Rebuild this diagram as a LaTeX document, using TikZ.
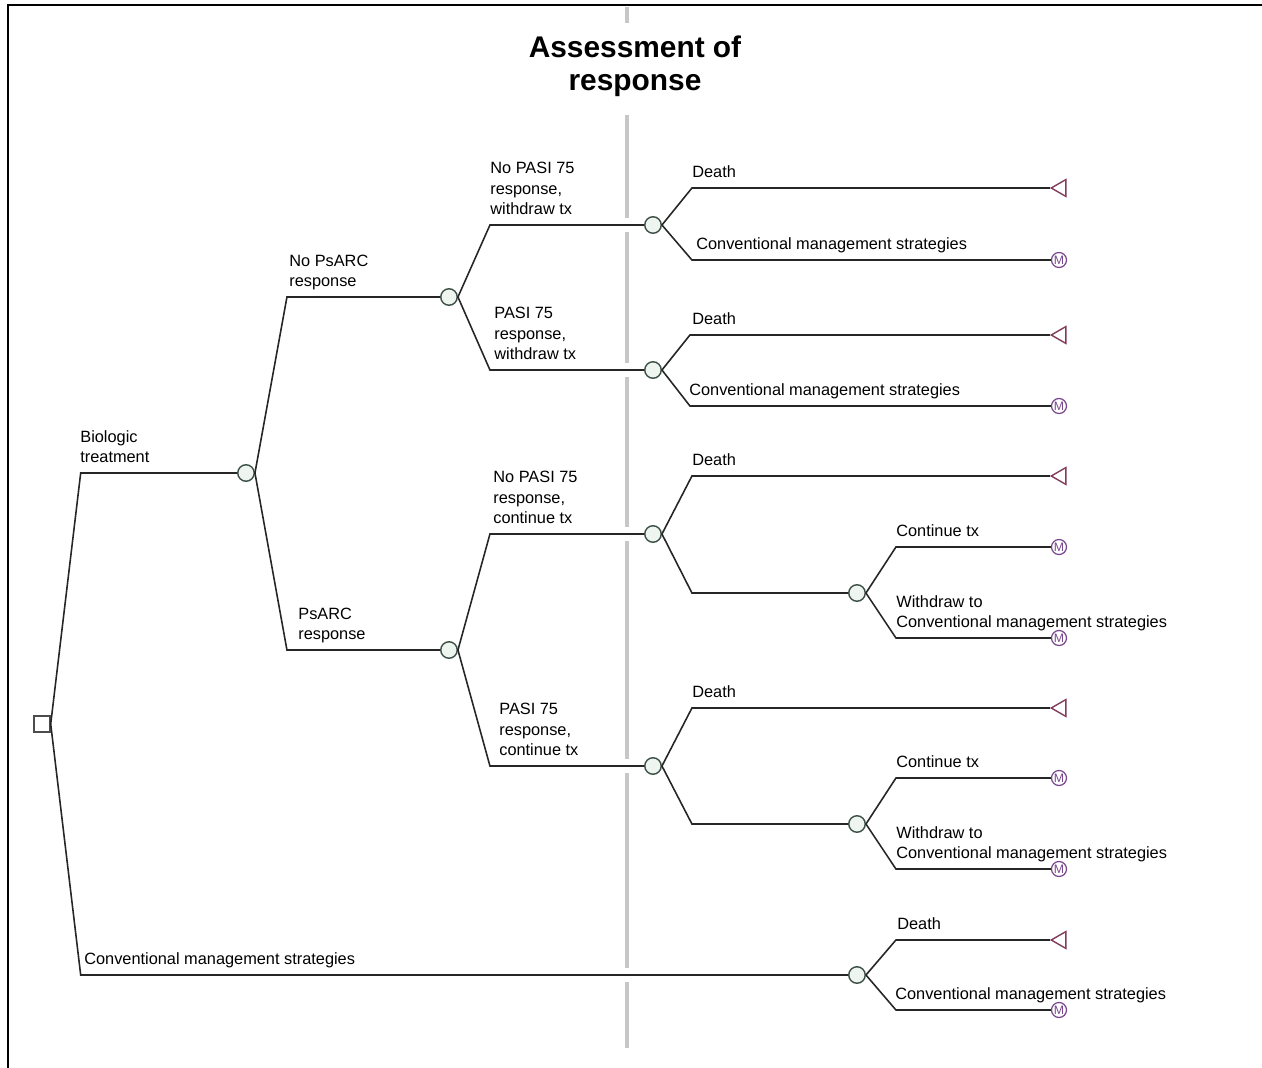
\documentclass[tikz,border=0pt]{standalone}
\usepackage{fontspec}
\setmainfont{Liberation Sans}
\usetikzlibrary{shapes.geometric}

\definecolor{chancedraw}{RGB}{60,80,70}
\definecolor{chancefill}{RGB}{238,245,240}
\definecolor{enddraw}{RGB}{130,60,90}
\definecolor{markovdraw}{RGB}{120,70,140}

\begin{document}
\begin{tikzpicture}[x=0.02cm, y=-0.02cm]
    \tikzset{EdgeStyle/.style={draw=black!85, line width=0.9pt}}
    \tikzset{BranchPath/.style={to path={-- ([xshift=#1]\tikztostart |- \tikztotarget) -- (\tikztotarget)}}, BranchPath/.default=0.6cm}
    \tikzset{DecisionStyle/.style={draw=black!70, fill=white, line width=0.8pt, minimum size=0.32cm, inner sep=0}}
    \tikzset{ChanceStyle/.style={circle, draw=chancedraw, fill=chancefill, line width=0.8pt, minimum size=0.33cm, inner sep=0}}
    \tikzset{EndStyle/.style={regular polygon, regular polygon sides=3, shape border rotate=90, draw=enddraw, line width=0.8pt, minimum size=0.39cm, inner sep=0}}
    \tikzset{MarkovStyle/.style={circle, draw=markovdraw, text=markovdraw, line width=0.7pt, minimum size=0.3cm, inner sep=0, font=\fontsize{7}{7}\selectfont}}
    \tikzset{LabelStyle/.style={anchor=base west, inner sep=0, align=left, font=\fontsize{9.3}{11.6}\selectfont}}
    \tikzset{TitleStyle/.style={anchor=base, inner sep=0, align=center, font=\fontsize{17}{19.3}\selectfont\bfseries}}

    \useasboundingbox (0,0) rectangle (1262,1068);
    \draw[line width=1.2pt] (8,1068) -- (8,5) -- (1262,5);

    \draw[draw=black!22, line width=1.8pt] (627,7) -- (627,23) (627,115) -- (627,218) (627,232) -- (627,363) (627,377) -- (627,527) (627,541) -- (627,759) (627,773) -- (627,968) (627,982) -- (627,1048);

    \node[TitleStyle] (title) at (635,91) {Assessment of\\response};

    \node[DecisionStyle] (D) at (42,724) {};

    \node[ChanceStyle] (Bio) at (246,473) {};
    \node[ChanceStyle] (Conv) at (857,975) {};
    \node[ChanceStyle] (NoPs) at (449,297) {};
    \node[ChanceStyle] (Ps) at (449,650) {};
    \node[ChanceStyle] (NoPasiW) at (653,225) {};
    \node[ChanceStyle] (PasiW) at (653,370) {};
    \node[ChanceStyle] (NoPasiC) at (653,534) {};
    \node[ChanceStyle] (PasiC) at (653,766) {};
    \node[ChanceStyle] (NoPasiCt) at (857,593) {};
    \node[ChanceStyle] (PasiCt) at (857,824) {};

    \node[EndStyle] (T1) at (1061,188) {};
    \node[EndStyle] (T2) at (1061,335) {};
    \node[EndStyle] (T3) at (1061,476) {};
    \node[EndStyle] (T4) at (1061,708) {};
    \node[EndStyle] (T5) at (1061,940) {};

    \node[MarkovStyle] (M1) at (1059,260) {M};
    \node[MarkovStyle] (M2) at (1059,406) {M};
    \node[MarkovStyle] (M3) at (1059,547) {M};
    \node[MarkovStyle] (M4) at (1059,638) {M};
    \node[MarkovStyle] (M5) at (1059,778) {M};
    \node[MarkovStyle] (M6) at (1059,869) {M};
    \node[MarkovStyle] (M7) at (1059,1010) {M};

    \draw[EdgeStyle] (D.east) to[BranchPath] (Bio);
    \draw[EdgeStyle] (D.east) to[BranchPath] (Conv);

    \draw[EdgeStyle] (Bio.east) to[BranchPath=0.64cm] (NoPs);
    \draw[EdgeStyle] (Bio.east) to[BranchPath=0.64cm] (Ps);

    \draw[EdgeStyle] (NoPs.east) to[BranchPath=0.64cm] (NoPasiW);
    \draw[EdgeStyle] (NoPs.east) to[BranchPath=0.64cm] (PasiW);
    \draw[EdgeStyle] (Ps.east) to[BranchPath=0.64cm] (NoPasiC);
    \draw[EdgeStyle] (Ps.east) to[BranchPath=0.64cm] (PasiC);

    \draw[EdgeStyle] (NoPasiW.east) to[BranchPath] (T1);
    \draw[EdgeStyle] (NoPasiW.east) to[BranchPath] (M1);
    \draw[EdgeStyle] (PasiW.east) to[BranchPath=0.56cm] (T2);
    \draw[EdgeStyle] (PasiW.east) to[BranchPath=0.56cm] (M2);

    \draw[EdgeStyle] (NoPasiC.east) to[BranchPath] (T3);
    \draw[EdgeStyle] (NoPasiC.east) to[BranchPath] (NoPasiCt);
    \draw[EdgeStyle] (NoPasiCt.east) to[BranchPath] (M3);
    \draw[EdgeStyle] (NoPasiCt.east) to[BranchPath] (M4);

    \draw[EdgeStyle] (PasiC.east) to[BranchPath] (T4);
    \draw[EdgeStyle] (PasiC.east) to[BranchPath] (PasiCt);
    \draw[EdgeStyle] (PasiCt.east) to[BranchPath] (M5);
    \draw[EdgeStyle] (PasiCt.east) to[BranchPath] (M6);

    \draw[EdgeStyle] (Conv.east) to[BranchPath] (T5);
    \draw[EdgeStyle] (Conv.east) to[BranchPath] (M7);

    \node[LabelStyle] (lBio) at (80,462.5) {Biologic\\treatment};
    \node[LabelStyle] (lConv) at (84,964.5) {Conventional management strategies};
    \node[LabelStyle] (lNoPs) at (289,286.5) {No PsARC\\response};
    \node[LabelStyle] (lPs) at (298,639.5) {PsARC\\response};
    \node[LabelStyle] (lNoPasiW) at (490,214.5) {No PASI 75\\response,\\withdraw tx};
    \node[LabelStyle] (lPasiW) at (494,359.5) {PASI 75\\response,\\withdraw tx};
    \node[LabelStyle] (lNoPasiC) at (493,523.5) {No PASI 75\\response,\\continue tx};
    \node[LabelStyle] (lPasiC) at (499,755.5) {PASI 75\\response,\\continue tx};

    \node[LabelStyle] (lT1) at (692,177.5) {Death};
    \node[LabelStyle] (lM1) at (696,249.5) {Conventional management strategies};
    \node[LabelStyle] (lT2) at (692,324.5) {Death};
    \node[LabelStyle] (lM2) at (689,395.5) {Conventional management strategies};
    \node[LabelStyle] (lT3) at (692,465.5) {Death};
    \node[LabelStyle] (lM3) at (896,536.5) {Continue tx};
    \node[LabelStyle] (lM4) at (896,627.5) {Withdraw to\\Conventional management strategies};
    \node[LabelStyle] (lT4) at (692,697.5) {Death};
    \node[LabelStyle] (lM5) at (896,767.5) {Continue tx};
    \node[LabelStyle] (lM6) at (896,858.5) {Withdraw to\\Conventional management strategies};
    \node[LabelStyle] (lT5) at (897,929.5) {Death};
    \node[LabelStyle] (lM7) at (895,999.5) {Conventional management strategies};
\end{tikzpicture}
\end{document}
